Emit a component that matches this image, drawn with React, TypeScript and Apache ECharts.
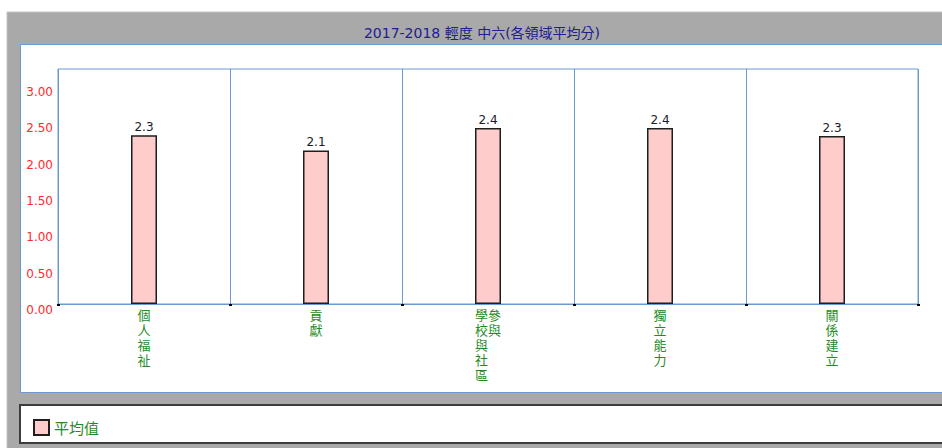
import React, { useEffect, useRef } from "react";
import * as echarts from "echarts";

const titleText = "2017-2018 輕度 中六(各領域平均分)";
const categories = ["個人福祉", "貢獻", "學校與社區參與", "獨立能力", "關係建立"];
const averages = [2.32, 2.11, 2.42, 2.42, 2.31];
const seriesName = "平均值";
const yMin = 0;
const yMax = 3.23;
const yInterval = 0.5;

const LATIN = "'DejaVu Sans', 'Noto Sans CJK TC', sans-serif";
const CJK = "'Noto Sans CJK TC', 'DejaVu Sans', sans-serif";
const BLUE = "#6a9bd0";
const GREEN = "#1f8c1f";

function verticalLabel(s: string): string {
  const chars = Array.from(s);
  const cols: string[][] = [];
  for (let i = 0; i < chars.length; i += 5) cols.push(chars.slice(i, i + 5));
  const rows: string[] = [];
  const n = Math.max(...cols.map((c) => c.length));
  for (let r = 0; r < n; r++) {
    rows.push(cols.map((c) => (c[r] !== undefined ? c[r] : "\u3000")).join(""));
  }
  return rows.join("\n");
}

export default function App() {
  const ref = useRef<HTMLDivElement>(null);
  useEffect(() => {
    if (!ref.current) return;
    const chart = echarts.init(ref.current, undefined, { renderer: "svg" });
    chart.setOption({
      animation: false,
      backgroundColor: "#ffffff",
      graphic: {
        elements: [
          {
            type: "rect",
            z: -20,
            shape: { x: 7, y: 12, width: 940, height: 440 },
            style: { fill: "#a9a9a9", stroke: "#c4c4c4", lineWidth: 1 },
          },
          {
            type: "rect",
            z: -15,
            shape: { x: 20.5, y: 44.5, width: 930, height: 348 },
            style: { fill: "#ffffff", stroke: BLUE, lineWidth: 1 },
          },
          {
            type: "rect",
            z: -15,
            shape: { x: 20, y: 405, width: 930, height: 38 },
            style: { fill: "#ffffff", stroke: "#3c3c3c", lineWidth: 2 },
          },
          {
            type: "text",
            z: 10,
            x: 482,
            y: 33,
            style: {
              text: titleText,
              fill: "#20208a",
              font: `14px ${LATIN}`,
              align: "center",
              verticalAlign: "middle",
            },
          },
        ],
      },
      legend: {
        left: 33,
        top: 419,
        padding: 0,
        itemWidth: 15,
        itemHeight: 15,
        icon: "rect",
        itemGap: 10,
        textStyle: { color: GREEN, fontSize: 15, fontFamily: CJK },
        data: [seriesName],
      },
      grid: {
        left: 58,
        top: 69,
        right: 24,
        bottom: 144,
        show: true,
        backgroundColor: "#ffffff",
        borderColor: BLUE,
        borderWidth: 1,
        containLabel: false,
      },
      xAxis: {
        type: "category",
        data: categories,
        boundaryGap: true,
        axisLine: { show: true, lineStyle: { color: BLUE, width: 1 } },
        axisTick: { show: true, length: 2, lineStyle: { color: "#000", width: 3 } },
        splitLine: { show: true, lineStyle: { color: BLUE, width: 1 } },
        axisLabel: {
          interval: 0,
          margin: 3,
          color: GREEN,
          fontSize: 13,
          lineHeight: 15,
          fontFamily: CJK,
          verticalAlign: "top",
          formatter: (v: string) => verticalLabel(v),
        },
      },
      yAxis: {
        type: "value",
        min: yMin,
        max: yMax,
        interval: yInterval,
        axisLine: { show: false },
        axisTick: { show: false },
        splitLine: { show: false },
        axisLabel: {
          showMaxLabel: false,
          margin: 5,
          color: "#ff2a2a",
          fontSize: 12,
          fontFamily: LATIN,
          verticalAlign: "top",
          formatter: (v: number) => v.toFixed(2),
        },
      },
      series: [
        {
          name: seriesName,
          type: "bar",
          data: averages,
          barWidth: 26,
          itemStyle: { color: "#ffcccc", borderColor: "#1e1e1e", borderWidth: 1.5 },
          label: {
            show: true,
            position: "top",
            distance: 2,
            color: "#1a1a2a",
            fontSize: 12,
            fontFamily: LATIN,
            formatter: (p: any) => (Math.floor(p.value * 10) / 10).toFixed(1),
          },
        },
      ],
    });
    return () => chart.dispose();
  }, []);
  return (
    <div
      ref={ref}
      style={{ position: "fixed", left: 0, top: 0, width: 942, height: 448 }}
    />
  );
}
